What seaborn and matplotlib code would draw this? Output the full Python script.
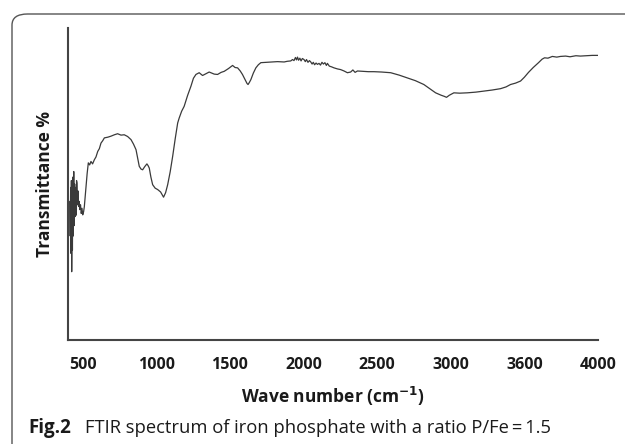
import matplotlib
matplotlib.use("Agg")
import matplotlib.pyplot as plt
from matplotlib.patches import FancyBboxPatch
import seaborn as sns
import pandas as pd

wavenumber = [412, 415, 418, 420, 423, 425, 428, 430, 433, 436, 439, 442, 445, 448, 451, 455, 458,
              461, 465, 468, 472, 476, 480, 485, 490, 495, 500, 506, 511, 516, 522, 530, 538, 547,
              556, 567, 579, 590, 602, 613, 624, 636, 647, 670, 692, 715, 737, 760, 782, 805, 828,
              845, 862, 873, 884, 896, 907, 921, 936, 944, 952, 963, 975, 992, 1009, 1029, 1049,
              1063, 1077, 1094, 1111, 1128, 1145, 1155, 1172, 1189, 1212, 1235, 1252, 1269, 1291,
              1314, 1337, 1359, 1393, 1416, 1440, 1461, 1490, 1518, 1535, 1552, 1570, 1585, 1597,
              1608, 1616, 1623, 1632, 1642, 1659, 1676, 1693, 1710, 1745, 1778, 1823, 1868, 1890,
              1913, 1925, 1935, 1945, 1952, 1959, 1966, 1975, 1983, 1992, 2003, 2012, 2020, 2030,
              2040, 2049, 2058, 2066, 2075, 2085, 2094, 2105, 2115, 2125, 2135, 2145, 2155, 2162,
              2175, 2190, 2207, 2230, 2252, 2275, 2298, 2320, 2335, 2350, 2366, 2400, 2440, 2478,
              2530, 2592, 2650, 2705, 2760, 2817, 2860, 2897, 2935, 2955, 2971, 2990, 3021, 3060,
              3112, 3170, 3224, 3280, 3338, 3375, 3406, 3440, 3474, 3500, 3528, 3560, 3596, 3620,
              3637, 3660, 3690, 3720, 3745, 3780, 3810, 3850, 3880, 3920, 3960, 4000]
transmittance = [40, 30, 44, 25, 46, 19.7, 38, 26, 47, 30, 48.6, 33, 45, 35.6, 44, 36, 46,
                 45.3, 39, 43, 38.5, 40, 37.6, 39, 36.5, 38, 36.1, 37, 38.5, 41, 44.3, 48, 51.1, 50.5,
                 51.5, 50.8, 52.0, 52.8, 54.4, 55.2, 56.8, 57.5, 58.3, 58.5, 58.8, 59.2, 59.5, 59.1,
                 59.2, 58.7, 57.8, 56.5, 54.9, 52.5, 50.1, 49.3, 49.1, 50.0, 50.8, 50.3, 49.6, 47.0,
                 44.8, 43.8, 43.4, 42.7, 41.2, 42.5, 44.8, 48.5, 53.0, 58.0, 62.6, 64.0, 66.0, 67.4,
                 70.5, 73.2, 75.5, 76.6, 77.1, 76.3, 76.8, 77.3, 76.7, 76.6, 77.2, 77.5, 78.3, 79.2,
                 78.6, 78.5, 77.6, 76.6, 75.6, 74.7, 74.0, 73.7, 74.3, 75.1, 77.0, 78.5, 79.4, 80.0,
                 80.1, 80.2, 80.3, 80.2, 80.4, 80.5, 80.9, 80.6, 81.5, 80.8, 81.6, 80.7, 81.3, 80.5,
                 81.2, 80.9, 80.3, 80.9, 80.1, 80.6, 80.2, 79.6, 80.1, 79.4, 79.9, 79.5, 79.8, 79.3,
                 80.1, 79.6, 80.0, 79.2, 79.8, 79.0, 78.8, 78.5, 78.2, 78.0, 77.6, 77.1, 77.3, 77.9,
                 77.2, 77.6, 77.5, 77.4, 77.4, 77.3, 77.1, 76.4, 75.6, 74.8, 73.7, 72.4, 71.3, 70.6,
                 70.3, 70.0, 70.6, 71.3, 71.2, 71.3, 71.5, 71.8, 72.1, 72.5, 73.0, 73.7, 74.1, 74.7,
                 75.8, 77.2, 78.6, 80.0, 81.0, 81.4, 81.3, 81.8, 81.6, 81.8, 81.9, 81.7, 82.0, 81.9,
                 82.0, 82.1, 82.1]

xtick_values = [500, 1000, 1500, 2000, 2500, 3000, 3500, 4000]
xtick_labels = ["500", "1000", "1500", "2000", "2500", "3000", "3600", "4000"]

sns.set_style("white")
plt.rcParams['font.family'] = ['Open Sans', 'DejaVu Sans']

fig = plt.figure(figsize=(6.25, 4.44), dpi=100)
ax = fig.add_axes([68 / 625, 1 - 340 / 444, 530 / 625, 312 / 444])

df = pd.DataFrame({"wn": wavenumber, "T": transmittance})
sns.lineplot(data=df, x="wn", y="T", sort=False, estimator=None, color="#3a3a3a",
             linewidth=0.9, ax=ax)

ax.set_xlim(400, 4000)
ax.set_ylim(0, 90)
ax.set_xticks(xtick_values)
ax.set_xticklabels(xtick_labels, fontsize=11.5, fontweight="bold", color="#1a1a1a")
ax.set_yticks(range(0, 91, 10))
ax.set_yticklabels([])
ax.tick_params(axis="x", direction="out", length=5, width=1.2, color="#444444", pad=7)
ax.tick_params(axis="y", direction="out", length=2.5, width=0.8, color="#444444")
for s in ["top", "right"]:
    ax.spines[s].set_visible(False)
for s in ["left", "bottom"]:
    ax.spines[s].set_color("#444444")
    ax.spines[s].set_linewidth(1.5)

ax.set_xlabel("Wave number (cm$^{\\mathbf{-1}}$)", fontsize=12.5, fontweight="bold",
              color="#1a1a1a", labelpad=9)
ax.set_ylabel("Transmittance %", fontsize=12.5, fontweight="bold", color="#1a1a1a", labelpad=4)

box = FancyBboxPatch((12 / 625, -0.2), 1.2, 1.2 - 14 / 444,
                     boxstyle="round,pad=0,rounding_size=0.025",
                     transform=fig.transFigure, fill=False, edgecolor="#555555",
                     linewidth=1.0, clip_on=False)
fig.patches.append(box)

fig.text(28 / 625, 1 - 428 / 444, "Fig.2", fontsize=13.5, fontweight="bold",
         va="center", ha="left", color="#1a1a1a")
fig.text(85 / 625, 1 - 428 / 444, "FTIR spectrum of iron phosphate with a ratio P/Fe\u2009=\u20091.5",
         fontsize=13.2, va="center", ha="left", color="#1a1a1a")

fig.savefig("out.png", dpi=100)
